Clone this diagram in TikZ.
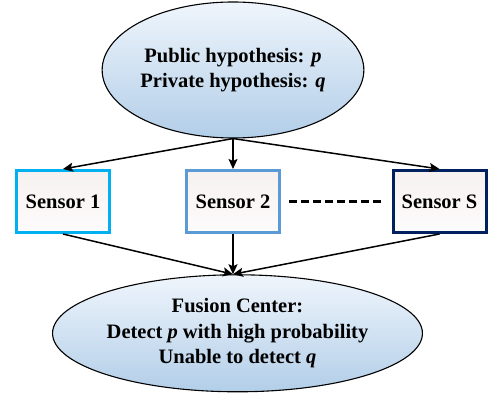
\documentclass[tikz,border=0pt]{standalone}
\usepackage{fontspec}
\setmainfont{Liberation Serif}
\usetikzlibrary{positioning, arrows.meta, shapes.geometric}

\definecolor{ellTop}{HTML}{EFF5FC}
\definecolor{ellBot}{HTML}{B2CEE8}
\definecolor{boxTop}{HTML}{F6F1EF}
\definecolor{boxBot}{HTML}{FDFCFC}
\definecolor{sensorOne}{HTML}{00B0F0}
\definecolor{sensorTwo}{HTML}{5B9BD5}
\definecolor{sensorEss}{HTML}{002060}

\begin{document}
\begin{tikzpicture}[x=1pt, y=1pt,
    hyp/.style={ellipse, draw, line width=1.1pt, inner sep=0pt, top color=ellTop, bottom color=ellBot, align=center, font=\bfseries\fontsize{20.5}{25.5}\selectfont},
    sensor/.style={rectangle, draw, line width=3pt, inner sep=0pt, minimum width=93pt, minimum height=62pt, top color=boxTop, bottom color=boxBot, font=\bfseries\fontsize{20.5}{25}\selectfont},
    arr/.style={-{Stealth[length=10pt, width=9pt, inset=2pt]}, line width=1.5pt}]
    \useasboundingbox (0,0) rectangle (488,401);

    % Hypotheses
    \node[hyp, minimum width=257pt, minimum height=136pt] (pub) at (233,331) {Public hypothesis: \textit{p}\\Private hypothesis: \textit{q}};

    % Sensors
    \node[sensor, draw=sensorOne] (s1) at (63,199.5) {Sensor 1};
    \node[sensor, draw=sensorTwo] (s2) at (233,199.5) {Sensor 2};
    \node[sensor, draw=sensorEss] (sS) at (439.5,199.5) {Sensor S};
    \draw[line width=2.5pt, dash pattern=on 8pt off 4pt, shorten <=8pt, shorten >=8pt] (s2.east) -- (sS.west);

    % Fusion center
    \node[hyp, minimum width=353pt, minimum height=117pt] (fc) at (237.5,67.7) {Fusion Center:\\Detect \textit{p} with high probability\\Unable to detect \textit{q}};

    % Links
    \foreach \s in {s1, s2, sS} {
      \draw[arr] (pub.south) -- (\s.north);
      \draw[arr] (\s.south) -- (fc.north -| s2.south);
    }
\end{tikzpicture}
\end{document}
